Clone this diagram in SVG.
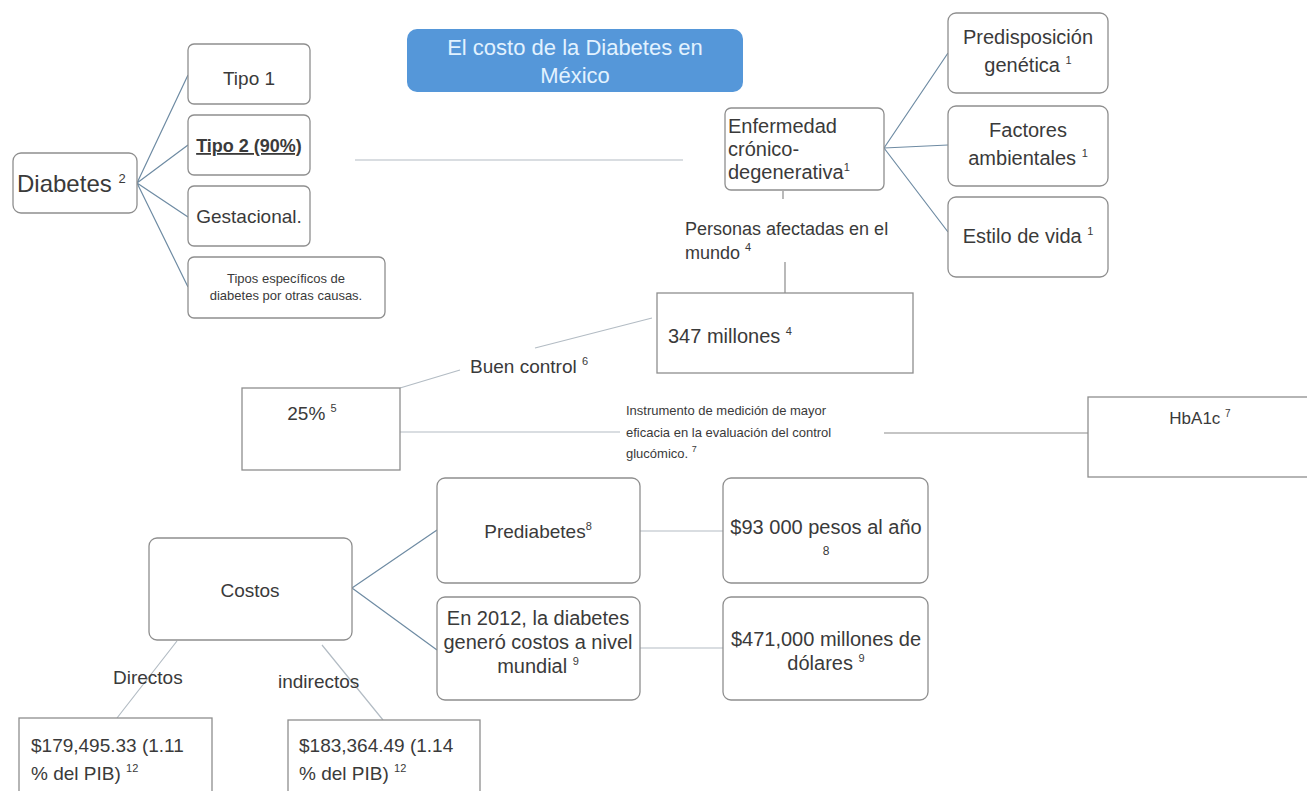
<svg xmlns="http://www.w3.org/2000/svg" width="1307" height="791" viewBox="0 0 1307 791">
<style>
text{font-family:"Liberation Sans",Arial,sans-serif;fill:#3a3a3a}
.box{fill:#fff;stroke:#8e8e8e;stroke-width:1.3}
.c{text-anchor:middle}
.sup{font-size:11px}
.con{stroke:#6e8ba3;stroke-width:1.2;fill:none}
.lt{stroke:#b3bcc4;stroke-width:1.2;fill:none}
.gr{stroke:#8c8c8c;stroke-width:1.2;fill:none}
</style>
<rect width="1307" height="791" fill="#fff"/>
<g id="connectors">
<path class="con" d="M137,183 L188,75 M137,183 L188,145 M137,183 L188,217 M137,183 L188,287"/>
<path class="lt" d="M355,160 H683"/>
<path class="con" d="M884,148 L948,53 M884,148 L948,145 M884,148 L948,232"/>
<path class="gr" d="M783,191 V199 M785,262 V293"/>
<path class="lt" d="M400,388 L460,370 M535,348 L652,318"/>
<path class="lt" d="M400,432 H620"/>
<path class="gr" d="M884,433 H1088"/>
<path class="con" d="M352,588 L437,530 M352,588 L437,650"/>
<path class="lt" d="M177,641 L117,718 M322,645 L383,720"/>
<path class="lt" d="M640,531 H723 M640,648 H723"/>
</g>
<g id="title">
<rect x="407" y="29" width="336" height="63" rx="10" fill="#5597d9"/>
<text class="c" x="575" y="55" font-size="22" style="fill:#e2f2ff">El costo de la Diabetes en</text>
<text class="c" x="575" y="83" font-size="22" style="fill:#e2f2ff">México</text>
</g>
<g id="diabetes">
<rect class="box" x="13" y="153" width="124" height="60" rx="8"/>
<text x="17" y="192" font-size="24">Diabetes <tspan font-size="13" dy="-9">2</tspan></text>
</g>
<g id="tipo1">
<rect class="box" x="188" y="44" width="122" height="60" rx="6"/>
<text class="c" x="249" y="85" font-size="19">Tipo 1</text>
</g>
<g id="tipo2">
<rect class="box" x="188" y="115" width="122" height="60" rx="6"/>
<text class="c" x="249" y="152" font-size="18" font-weight="bold" text-decoration="underline">Tipo 2 (90%)</text>
</g>
<g id="gestacional">
<rect class="box" x="188" y="186" width="122" height="60" rx="6"/>
<text class="c" x="249" y="223" font-size="19">Gestacional.</text>
</g>
<g id="tipos-especificos">
<rect class="box" x="188" y="257" width="197" height="61" rx="6"/>
<text class="c" x="286" y="283" font-size="13">Tipos específicos de</text>
<text class="c" x="286" y="300" font-size="13">diabetes por otras causas.</text>
</g>
<g id="enfermedad">
<rect class="box" x="725" y="108" width="159" height="82" rx="6"/>
<text x="728" y="133" font-size="20">Enfermedad</text>
<text x="728" y="156" font-size="20">crónico-</text>
<text x="728" y="179" font-size="20">degenerativa<tspan class="sup" dy="-8">1</tspan></text>
</g>
<g id="predisposicion">
<rect class="box" x="948" y="13" width="160" height="80" rx="8"/>
<text class="c" x="1028" y="44" font-size="20">Predisposición</text>
<text class="c" x="1028" y="72" font-size="20">genética <tspan class="sup" dy="-8">1</tspan></text>
</g>
<g id="factores">
<rect class="box" x="948" y="106" width="160" height="80" rx="8"/>
<text class="c" x="1028" y="137" font-size="20">Factores</text>
<text class="c" x="1028" y="165" font-size="20">ambientales <tspan class="sup" dy="-8">1</tspan></text>
</g>
<g id="estilo">
<rect class="box" x="948" y="197" width="160" height="80" rx="8"/>
<text class="c" x="1028" y="243" font-size="20">Estilo de vida <tspan class="sup" dy="-8">1</tspan></text>
</g>
<g id="personas">
<text x="685" y="235" font-size="18">Personas afectadas en el</text>
<text x="685" y="259" font-size="18">mundo <tspan class="sup" dy="-8">4</tspan></text>
</g>
<g id="millones">
<rect class="box" x="657" y="293" width="256" height="80"/>
<text x="668" y="343" font-size="20">347 millones <tspan class="sup" dy="-8">4</tspan></text>
</g>
<g id="buen-control">
<text x="470" y="373" font-size="19">Buen control <tspan class="sup" dy="-8">6</tspan></text>
</g>
<g id="pct25">
<rect class="box" x="242" y="388" width="158" height="82"/>
<text class="c" x="312" y="420" font-size="19">25% <tspan class="sup" dy="-8">5</tspan></text>
</g>
<g id="instrumento">
<text x="626" y="415" font-size="13">Instrumento de medición de mayor</text>
<text x="626" y="437" font-size="13">eficacia en la evaluación del control</text>
<text x="626" y="458" font-size="13">glucómico. <tspan font-size="9" dy="-6">7</tspan></text>
</g>
<g id="hba1c">
<rect class="box" x="1088" y="397" width="240" height="80"/>
<text class="c" x="1200" y="424" font-size="17">HbA1c <tspan font-size="10" dy="-7">7</tspan></text>
</g>
<g id="costos">
<rect class="box" x="149" y="538" width="203" height="102" rx="8"/>
<text class="c" x="250" y="597" font-size="19">Costos</text>
</g>
<g id="prediabetes">
<rect class="box" x="437" y="478" width="203" height="105" rx="8"/>
<text class="c" x="538" y="538" font-size="19">Prediabetes<tspan class="sup" dy="-8">8</tspan></text>
</g>
<g id="pesos">
<rect class="box" x="723" y="478" width="205" height="105" rx="8"/>
<text class="c" x="826" y="534" font-size="20">$93 000 pesos al año</text>
<text class="c" x="826" y="555" font-size="12">8</text>
</g>
<g id="en2012">
<rect class="box" x="437" y="597" width="203" height="103" rx="8"/>
<text class="c" x="538" y="625" font-size="20">En 2012, la diabetes</text>
<text class="c" x="538" y="649" font-size="20">generó costos a nivel</text>
<text class="c" x="538" y="673" font-size="20">mundial  <tspan class="sup" dy="-8">9</tspan></text>
</g>
<g id="dolares">
<rect class="box" x="723" y="597" width="205" height="103" rx="8"/>
<text class="c" x="826" y="646" font-size="20">$471,000 millones de</text>
<text class="c" x="826" y="670" font-size="20">dólares <tspan class="sup" dy="-8">9</tspan></text>
</g>
<g id="directos">
<text x="113" y="684" font-size="19">Directos</text>
</g>
<g id="indirectos">
<text x="278" y="688" font-size="19">indirectos</text>
</g>
<g id="costo-directo">
<rect class="box" x="19" y="718" width="193" height="80"/>
<text x="31" y="752" font-size="19">$179,495.33 (1.11</text>
<text x="31" y="780" font-size="19">% del PIB) <tspan class="sup" dy="-8">12</tspan></text>
</g>
<g id="costo-indirecto">
<rect class="box" x="288" y="720" width="192" height="80"/>
<text x="299" y="752" font-size="19">$183,364.49 (1.14</text>
<text x="299" y="780" font-size="19">% del PIB) <tspan class="sup" dy="-8">12</tspan></text>
</g>
</svg>
